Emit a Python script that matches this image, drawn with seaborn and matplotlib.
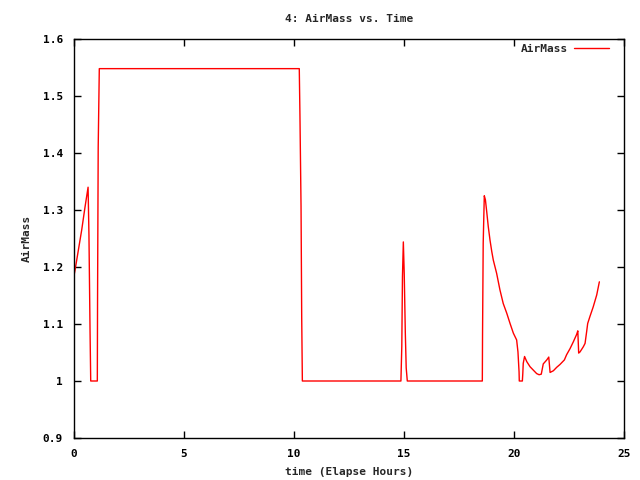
import pandas as pd
import matplotlib
matplotlib.use("Agg")
import matplotlib.pyplot as plt
import seaborn as sns

# elapsed hours and airmass
hours = [0.0, 0.05, 0.2, 0.35, 0.5, 0.64, 0.68, 0.73, 0.76, 1.06, 1.07, 1.1, 1.15,
         10.24, 10.27, 10.32, 10.35, 10.38,
         14.86, 14.9, 14.93, 14.97, 15.01, 15.06, 15.1, 15.15,
         18.56, 18.57, 18.6, 18.65, 18.7, 18.76, 18.83, 18.91, 18.99, 19.06, 19.21,
         19.36, 19.51, 19.67, 19.82, 19.97, 20.12, 20.18, 20.23, 20.24, 20.38, 20.4,
         20.42, 20.48, 20.58, 20.73, 20.88, 21.03, 21.14, 21.24, 21.33, 21.49, 21.58,
         21.64, 21.79, 21.94, 22.09, 22.29, 22.39, 22.55, 22.7, 22.85, 22.9, 22.94,
         23.0, 23.15, 23.23, 23.3, 23.35, 23.45, 23.6, 23.76, 23.88]
airmass = [1.185, 1.195, 1.23, 1.265, 1.305, 1.34, 1.255, 1.085, 1.0, 1.0, 1.137, 1.41, 1.548,
           1.548, 1.467, 1.306, 1.113, 1.0,
           1.0, 1.061, 1.183, 1.244, 1.189, 1.084, 1.023, 1.0,
           1.0, 1.081, 1.242, 1.325, 1.318, 1.297, 1.271, 1.247, 1.227, 1.212, 1.189,
           1.16, 1.136, 1.119, 1.101, 1.084, 1.072, 1.051, 1.016, 1.0, 1.0, 1.013,
           1.031, 1.043, 1.034, 1.025, 1.019, 1.013, 1.011, 1.012, 1.03, 1.037, 1.042,
           1.015, 1.018, 1.024, 1.029, 1.037, 1.046, 1.057, 1.069, 1.082, 1.088, 1.049,
           1.051, 1.06, 1.066, 1.086, 1.101, 1.113, 1.13, 1.151, 1.174]

xticks = [0, 5, 10, 15, 20, 25]
yticks = [0.9, 1.0, 1.1, 1.2, 1.3, 1.4, 1.5, 1.6]
ylabels = ["0.9", "1", "1.1", "1.2", "1.3", "1.4", "1.5", "1.6"]

df = pd.DataFrame({"hours": hours, "AirMass": airmass})

sns.set_style("ticks")
plt.rcParams['font.family'] = ['DejaVu Sans Mono']
plt.rcParams['font.weight'] = 'bold'

fig = plt.figure(figsize=(6.4, 4.8), dpi=100)
ax = fig.add_axes([74 / 640, 1 - 438 / 480, 550 / 640, 399 / 480])

sns.lineplot(data=df, x="hours", y="AirMass", color="red", linewidth=1,
             label="AirMass", ax=ax, estimator=None, sort=False)

ax.set_xlim(0, 25)
ax.set_ylim(0.9, 1.6)
ax.set_xticks(xticks)
ax.set_xticklabels([str(t) for t in xticks])
ax.set_yticks(yticks)
ax.set_yticklabels(ylabels)
ax.tick_params(direction="in", top=True, right=True, length=5, width=1,
               labelsize=8, pad=8, colors="black")
for sp in ax.spines.values():
    sp.set_linewidth(1)
    sp.set_color("black")

ax.set_xlabel("time (Elapse Hours)", fontsize=8, fontweight="bold", labelpad=6)
ax.set_ylabel("AirMass", fontsize=8, fontweight="bold", labelpad=8)
ax.set_title("4: AirMass vs. Time", fontsize=8, fontweight="bold", pad=12)

leg = ax.legend(loc="upper right", frameon=False, fontsize=8, markerfirst=False,
                handlelength=3.2, handletextpad=0.5, borderaxespad=0.3,
                bbox_to_anchor=(1 - 7 / 550, 1 + 3 / 399))
for t in leg.get_texts():
    t.set_fontweight("bold")

fig.savefig("out.png", dpi=100)
